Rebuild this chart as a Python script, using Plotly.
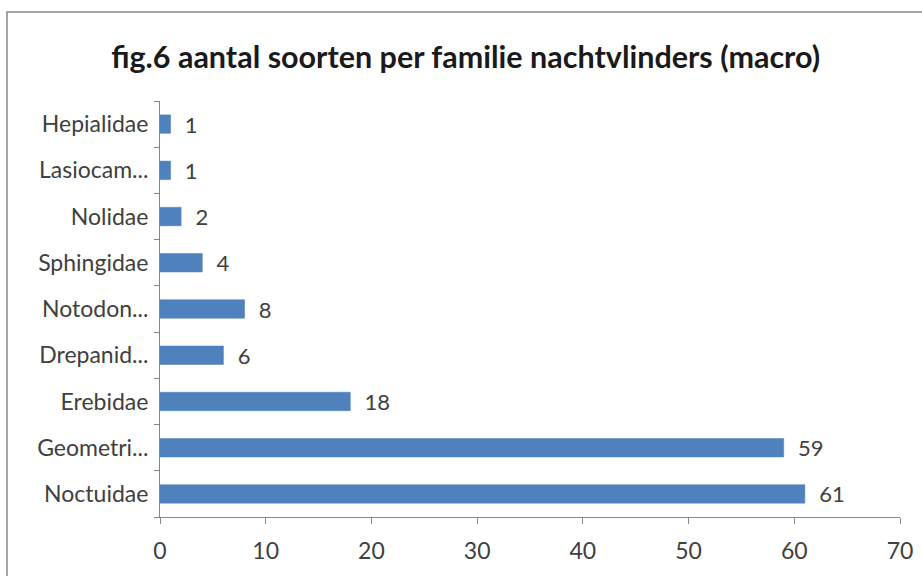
import plotly.graph_objects as go

categories = ["Noctuidae", "Geometri...", "Erebidae", "Drepanid...", "Notodon...",
              "Sphingidae", "Nolidae", "Lasiocam...", "Hepialidae"]
values = [61, 59, 18, 6, 8, 4, 2, 1, 1]
x_ticks = [0, 10, 20, 30, 40, 50, 60, 70]

W, H = 922, 576
L, R, T, B = 160, 900, 101, 517
FONT = "Lato, Noto Sans, sans-serif"

fig = go.Figure(go.Bar(
    y=categories, x=values, orientation="h",
    marker=dict(color="#4F81BD", line=dict(color="#4A7EBB", width=0.5)),
    texttemplate="\u00a0\u00a0%{x}", textposition="outside", constraintext="none",
    textfont=dict(family=FONT, size=22, color="#404040"),
    cliponaxis=False, showlegend=False,
))

fig.update_layout(
    width=W, height=H,
    margin=dict(l=L, r=W - R, t=T, b=H - B, autoexpand=False),
    paper_bgcolor="white", plot_bgcolor="white",
    bargap=0.6,
    title=dict(text="<b>fig.6 aantal soorten per familie nachtvlinders (macro)</b>",
               x=0.505, xanchor="center", y=1 - 57 / H, yanchor="middle",
               font=dict(family=FONT, size=30.5, color="#1a1a1a")),
    font=dict(family=FONT, size=22, color="#404040"),
    xaxis=dict(range=[0, 70], tickvals=x_ticks, showgrid=False, zeroline=False,
               showline=True, linecolor="#868686", linewidth=1,
               ticks="outside", ticklen=6, tickcolor="#868686",
               tickfont=dict(size=23, color="#404040"), ticklabelstandoff=7,
               fixedrange=True),
    yaxis=dict(showgrid=False, zeroline=False, showline=True, linecolor="#868686",
               linewidth=1, ticks="outside", ticklen=5, tickcolor="#868686",
               tickson="boundaries", tickfont=dict(size=23, color="#404040"),
               ticklabelstandoff=6, fixedrange=True),
)

pw, ph = R - L, B - T
fig.add_shape(type="rect", xref="paper", yref="paper",
              x0=(7 - L) / pw, x1=(930 - L) / pw,
              y0=(B - 590) / ph, y1=(B - 12) / ph,
              line=dict(color="#868686", width=1.5), fillcolor="rgba(0,0,0,0)",
              layer="below")

fig.write_html("out.html", config={"displayModeBar": False},
               post_script="document.body.style.margin='0';document.body.style.padding='0';")
